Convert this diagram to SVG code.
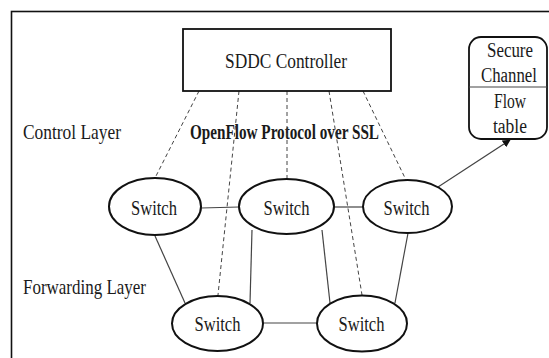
<svg xmlns="http://www.w3.org/2000/svg" width="549" height="358" viewBox="0 0 549 358">
  <style>
    text { font-family: 'Liberation Serif', 'Times New Roman', serif; fill: #1a1a1a; }
    .lbl { font-size: 21px; }
    .sw { font-size: 21px; text-anchor: middle; }
    .tb { font-size: 20px; text-anchor: middle; }
    .bold { font-size: 20px; font-weight: bold; }
    .node { fill: #ffffff; stroke: #111111; stroke-width: 2; }
    .box { fill: #ffffff; stroke: #111111; stroke-width: 1.8; }
    .link { stroke: #444444; stroke-width: 1.2; fill: none; }
    .ctrl { stroke: #444444; stroke-width: 1; stroke-dasharray: 4 3; fill: none; }
  </style>
  <defs>
    <marker id="arrow" viewBox="0 0 10 10" refX="9" refY="5" markerWidth="8" markerHeight="8" orient="auto" markerUnits="userSpaceOnUse">
      <path d="M0,0 L10,5 L0,10 z" fill="#111111"/>
    </marker>
  </defs>

  <rect width="549" height="358" fill="#ffffff"/>
  <!-- outer frame, open past the right and bottom edges -->
  <rect x="11.5" y="11.5" width="600" height="400" fill="none" stroke="#111111" stroke-width="1.6"/>

  <!-- layer labels -->
  <text class="lbl" x="23" y="139" textLength="98" lengthAdjust="spacingAndGlyphs">Control Layer</text>
  <text class="lbl" x="23" y="294" textLength="123" lengthAdjust="spacingAndGlyphs">Forwarding Layer</text>
  <text class="bold" x="190" y="139" textLength="189" lengthAdjust="spacingAndGlyphs">OpenFlow Protocol over SSL</text>

  <g id="connectors">
    <!-- control channels -->
    <line class="ctrl" x1="199" y1="91" x2="155" y2="178"/>
    <line class="ctrl" x1="239" y1="91" x2="218" y2="295"/>
    <line class="ctrl" x1="287" y1="91" x2="287" y2="179"/>
    <line class="ctrl" x1="329" y1="91" x2="362" y2="295"/>
    <line class="ctrl" x1="363" y1="91" x2="406" y2="180"/>
    <!-- data links -->
    <line class="link" x1="201" y1="208" x2="239" y2="207"/>
    <line class="link" x1="334" y1="207" x2="363" y2="207"/>
    <line class="link" x1="155" y1="236" x2="185" y2="303"/>
    <line class="link" x1="252" y1="230" x2="250" y2="303"/>
    <line class="link" x1="322" y1="230" x2="330" y2="303"/>
    <line class="link" x1="408" y1="233" x2="395" y2="303"/>
    <line class="link" x1="263" y1="323" x2="317" y2="323"/>
    <line class="link" x1="438" y1="187" x2="510" y2="140" marker-end="url(#arrow)"/>
  </g>

  <g id="controller">
    <rect class="box" x="183" y="29" width="208" height="62"/>
    <text class="sw" x="286" y="68" textLength="122" lengthAdjust="spacingAndGlyphs">SDDC Controller</text>
  </g>

  <g id="switch-table">
    <rect class="box" x="469" y="37" width="78" height="102" rx="12" ry="12"/>
    <line x1="469" y1="87" x2="547" y2="87" stroke="#444444" stroke-width="1.2"/>
    <text class="tb" x="510" y="57" textLength="46" lengthAdjust="spacingAndGlyphs">Secure</text>
    <text class="tb" x="509" y="82" textLength="56" lengthAdjust="spacingAndGlyphs">Channel</text>
    <text class="tb" x="510" y="108" textLength="32" lengthAdjust="spacingAndGlyphs">Flow</text>
    <text class="tb" x="510" y="133" textLength="34" lengthAdjust="spacingAndGlyphs">table</text>
  </g>

  <g id="switch1">
    <ellipse class="node" cx="155" cy="206.5" rx="46" ry="28.5"/>
    <text class="sw" x="154" y="215" textLength="46" lengthAdjust="spacingAndGlyphs">Switch</text>
  </g>
  <g id="switch2">
    <ellipse class="node" cx="286.5" cy="206.5" rx="47.5" ry="27.5"/>
    <text class="sw" x="286.5" y="215" textLength="46" lengthAdjust="spacingAndGlyphs">Switch</text>
  </g>
  <g id="switch3">
    <ellipse class="node" cx="407.5" cy="206.5" rx="44.5" ry="26.5"/>
    <text class="sw" x="406.5" y="215" textLength="46" lengthAdjust="spacingAndGlyphs">Switch</text>
  </g>
  <g id="switch4">
    <ellipse class="node" cx="217.5" cy="323.5" rx="45.5" ry="27.5"/>
    <text class="sw" x="217.5" y="331" textLength="46" lengthAdjust="spacingAndGlyphs">Switch</text>
  </g>
  <g id="switch5">
    <ellipse class="node" cx="362" cy="323.5" rx="45" ry="28"/>
    <text class="sw" x="361.5" y="331" textLength="46" lengthAdjust="spacingAndGlyphs">Switch</text>
  </g>
</svg>
